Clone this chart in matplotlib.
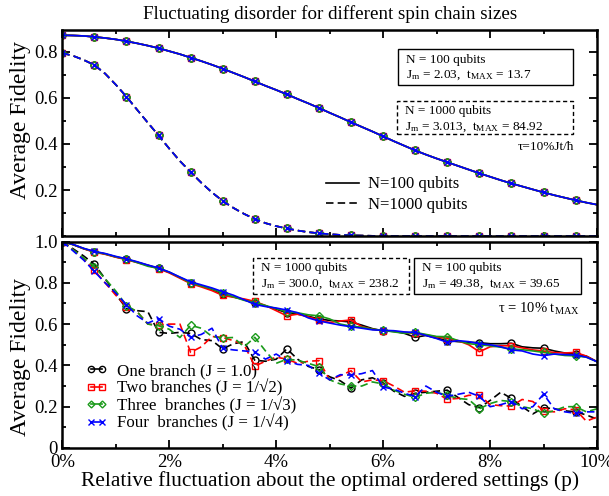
import numpy as np
import matplotlib
matplotlib.use('Agg')
import matplotlib.pyplot as plt
from matplotlib.patches import Rectangle
from matplotlib.lines import Line2D
from matplotlib.ticker import MultipleLocator, FuncFormatter

plt.rcParams['font.family'] = ['Liberation Serif', 'DejaVu Serif']
plt.rcParams['mathtext.fontset'] = 'stix'

# relative fluctuation p (%), sampled every 0.2 %
p = np.round(np.arange(0, 10.01, 0.2), 1)

# top panel: fluctuating disorder, same curve for all four branches
top_n100 = [0.871, 0.870, 0.868, 0.864, 0.859, 0.853, 0.845, 0.836, 0.826, 0.815,
            0.802, 0.789, 0.774, 0.759, 0.743, 0.726, 0.708, 0.690, 0.671, 0.652,
            0.634, 0.615, 0.595, 0.576, 0.556, 0.535, 0.515, 0.494, 0.474, 0.454,
            0.433, 0.412, 0.392, 0.372, 0.354, 0.337, 0.321, 0.305, 0.289, 0.273,
            0.258, 0.243, 0.229, 0.216, 0.203, 0.190, 0.178, 0.167, 0.156, 0.146,
            0.137]
top_n1000 = [0.794, 0.782, 0.764, 0.742, 0.705, 0.657, 0.605, 0.548, 0.492, 0.437,
             0.380, 0.326, 0.278, 0.232, 0.190, 0.153, 0.123, 0.097, 0.075, 0.057,
             0.044, 0.034, 0.025, 0.018, 0.013, 0.009, 0.006, 0.004, 0.003, 0.002,
             0.002, 0.001, 0.001, 0.001, 0.001, 0.001, 0.001, 0.001, 0.001, 0.001,
             0.001, 0.001, 0.001, 0.001, 0.001, 0.001, 0.001, 0.001, 0.001, 0.001,
             0.001]

# bottom panel, N = 100 (solid)
bot_n100_one = [1.0, 0.985, 0.965, 0.950, 0.940, 0.925, 0.914, 0.900, 0.885, 0.870,
                0.850, 0.825, 0.800, 0.785, 0.768, 0.745, 0.732, 0.718, 0.700, 0.688,
                0.672, 0.655, 0.648, 0.638, 0.625, 0.618, 0.615, 0.610, 0.595, 0.578,
                0.567, 0.565, 0.555, 0.536, 0.545, 0.532, 0.520, 0.515, 0.512, 0.510,
                0.505, 0.505, 0.507, 0.490, 0.485, 0.483, 0.470, 0.460, 0.455, 0.445,
                0.418]
bot_n100_two = [1.0, 0.985, 0.965, 0.948, 0.938, 0.924, 0.912, 0.898, 0.884, 0.868,
                0.848, 0.822, 0.796, 0.780, 0.762, 0.739, 0.730, 0.722, 0.710, 0.690,
                0.665, 0.640, 0.648, 0.635, 0.620, 0.608, 0.615, 0.620, 0.588, 0.575,
                0.568, 0.565, 0.560, 0.555, 0.548, 0.538, 0.530, 0.520, 0.500, 0.466,
                0.490, 0.495, 0.495, 0.485, 0.475, 0.470, 0.462, 0.460, 0.463, 0.445,
                0.418]
bot_n100_three = [1.0, 0.985, 0.966, 0.951, 0.940, 0.926, 0.915, 0.898, 0.880, 0.870,
                  0.852, 0.826, 0.800, 0.785, 0.770, 0.750, 0.732, 0.715, 0.705, 0.690,
                  0.675, 0.660, 0.655, 0.645, 0.640, 0.625, 0.600, 0.590, 0.585, 0.575,
                  0.570, 0.562, 0.556, 0.560, 0.550, 0.540, 0.539, 0.520, 0.505, 0.500,
                  0.495, 0.488, 0.480, 0.476, 0.470, 0.463, 0.455, 0.448, 0.446, 0.440,
                  0.418]
bot_n100_four = [1.0, 0.986, 0.967, 0.952, 0.942, 0.928, 0.916, 0.902, 0.886, 0.872,
                 0.852, 0.828, 0.805, 0.790, 0.775, 0.757, 0.740, 0.718, 0.695, 0.685,
                 0.678, 0.668, 0.655, 0.630, 0.615, 0.605, 0.595, 0.587, 0.580, 0.572,
                 0.570, 0.568, 0.562, 0.560, 0.545, 0.530, 0.512, 0.520, 0.515, 0.505,
                 0.500, 0.490, 0.475, 0.470, 0.455, 0.447, 0.455, 0.452, 0.450, 0.440,
                 0.418]

# bottom panel, N = 1000 (dashed)
bot_n1000_one = [1.0, 0.965, 0.930, 0.890, 0.820, 0.745, 0.675, 0.665, 0.660, 0.560,
                 0.555, 0.560, 0.555, 0.525, 0.520, 0.480, 0.505, 0.515, 0.425, 0.420,
                 0.430, 0.480, 0.430, 0.395, 0.380, 0.345, 0.325, 0.290, 0.330, 0.340,
                 0.315, 0.275, 0.250, 0.265, 0.270, 0.275, 0.280, 0.245, 0.210, 0.195,
                 0.230, 0.270, 0.240, 0.200, 0.165, 0.195, 0.190, 0.180, 0.175, 0.160,
                 0.140]
bot_n1000_two = [1.0, 0.960, 0.915, 0.860, 0.800, 0.740, 0.685, 0.660, 0.600, 0.595,
                 0.600, 0.600, 0.463, 0.490, 0.540, 0.535, 0.520, 0.500, 0.397, 0.420,
                 0.440, 0.430, 0.410, 0.420, 0.423, 0.330, 0.350, 0.374, 0.320, 0.330,
                 0.326, 0.300, 0.270, 0.277, 0.275, 0.265, 0.236, 0.240, 0.255, 0.257,
                 0.210, 0.205, 0.203, 0.235, 0.225, 0.180, 0.175, 0.190, 0.185, 0.130,
                 0.150]
bot_n1000_three = [1.0, 0.960, 0.920, 0.878, 0.820, 0.760, 0.690, 0.660, 0.600, 0.592,
                   0.575, 0.535, 0.594, 0.580, 0.540, 0.533, 0.535, 0.490, 0.536, 0.470,
                   0.410, 0.430, 0.425, 0.410, 0.394, 0.330, 0.310, 0.300, 0.300, 0.320,
                   0.310, 0.280, 0.260, 0.245, 0.265, 0.270, 0.255, 0.240, 0.235, 0.190,
                   0.215, 0.230, 0.225, 0.200, 0.190, 0.168, 0.180, 0.200, 0.200, 0.175,
                   0.190]
bot_n1000_four = [1.0, 0.955, 0.910, 0.855, 0.800, 0.750, 0.694, 0.640, 0.605, 0.627,
                  0.590, 0.575, 0.537, 0.550, 0.580, 0.482, 0.475, 0.470, 0.465, 0.430,
                  0.455, 0.423, 0.405, 0.400, 0.362, 0.330, 0.355, 0.353, 0.360, 0.375,
                  0.295, 0.285, 0.265, 0.249, 0.300, 0.270, 0.250, 0.260, 0.270, 0.250,
                  0.200, 0.210, 0.225, 0.190, 0.200, 0.261, 0.190, 0.175, 0.168, 0.175,
                  0.175]

branch_labels = ['One branch (J = 1.0)', 'Two branches (J = 1/\u221a2)',
                 'Three  branches (J = 1/\u221a3)', 'Four  branches (J = 1/\u221a4)']
colors = ['black', 'red', '#1a9a1a', 'blue']
markers = ['o', 's', 'D', 'x']
msizes = [5, 4.5, 4, 5]

bot_n100 = [bot_n100_one, bot_n100_two, bot_n100_three, bot_n100_four]
bot_n1000 = [bot_n1000_one, bot_n1000_two, bot_n1000_three, bot_n1000_four]

dash = (0, (4.5, 2.5))

fig = plt.figure(figsize=(6.09, 4.96), dpi=100)
ax1 = fig.add_axes([0.1023, 0.5236, 0.878, 0.4165])
ax2 = fig.add_axes([0.1023, 0.0968, 0.878, 0.4163])

for i in range(4):
    kw = dict(color=colors[i], marker=markers[i], ms=msizes[i], mfc='none',
              mew=1.0, lw=1.2, markevery=3)
    ax1.plot(p, top_n100, **kw)
    ax1.plot(p, top_n1000, ls=dash, **kw)
    ax2.plot(p, bot_n1000[i], ls=dash, **kw)
    ax2.plot(p, bot_n100[i], **kw)


def style(ax, label_y):
    ax.set_xlim(0, 10)
    ax.xaxis.set_major_locator(MultipleLocator(2))
    ax.xaxis.set_minor_locator(MultipleLocator(1))
    ax.yaxis.set_minor_locator(MultipleLocator(0.1))
    ax.tick_params(which='both', direction='in', top=True, right=True,
                   labelsize=13.5, width=1.3)
    ax.tick_params(axis='x', pad=4.5)
    ax.tick_params(which='major', length=6)
    ax.tick_params(which='minor', length=3)
    for s in ax.spines.values():
        s.set_linewidth(1.8)
    ax.set_ylabel('Average Fidelity', fontsize=17)
    ax.yaxis.set_label_coords(-0.059, label_y)


style(ax1, 0.563)
style(ax2, 0.442)

ax1.set_ylim(0, 0.895)
ax1.set_yticks([0.2, 0.4, 0.6, 0.8])
ax1.set_xticklabels([])
ax1.set_title('Fluctuating disorder for different spin chain sizes',
              fontsize=13.7, pad=8)

ax2.set_ylim(0, 1.0)
ax2.set_yticks([0, 0.2, 0.4, 0.6, 0.8, 1.0])
ax2.yaxis.set_major_formatter(FuncFormatter(lambda v, _: '0' if v == 0 else f'{v:.1f}'))
ax2.xaxis.set_major_formatter(FuncFormatter(lambda v, _: f'{v:.0f}%'))
ax2.set_xlabel('Relative fluctuation about the optimal ordered settings (p)',
               fontsize=15.4, labelpad=0)

# top legend: line style meaning
h_top = [Line2D([], [], color='black', lw=1.2),
         Line2D([], [], color='black', lw=1.2, ls=dash)]
ax1.legend(h_top, ['N=100 qubits', 'N=1000 qubits'], loc='upper left',
           bbox_to_anchor=(0.493, 0.29), frameon=False, fontsize=12,
           handlelength=2.0, handletextpad=0.5, labelspacing=0.27,
           borderpad=0, borderaxespad=0)

# bottom legend: branches
h_bot = [Line2D([], [], color=colors[i], marker=markers[i], ms=msizes[i] - 0.5,
                mfc='none', lw=1.2) for i in range(4)]
ax2.legend(h_bot, branch_labels, loc='upper left', bbox_to_anchor=(0.045, 0.41),
           frameon=False, fontsize=12.2, numpoints=2, handlelength=1.2,
           handletextpad=0.6, labelspacing=0.0, borderpad=0, borderaxespad=0)

# parameter boxes
box_fs = 9.5


def add_box(ax, x0, y0, x1, y1, ls, lines):
    ax.add_patch(Rectangle((x0, y0), x1 - x0, y1 - y0, transform=ax.transAxes,
                           fill=False, ec='black', lw=1.0, ls=ls, zorder=5))
    ax.text(x0 + 0.015, y1 - 0.05, lines[0], transform=ax.transAxes,
            fontsize=box_fs, va='center', ha='left')
    ax.text(x0 + 0.015, y1 - 0.125, lines[1], transform=ax.transAxes,
            fontsize=box_fs, va='center', ha='left')


add_box(ax1, 0.628, 0.730, 0.955, 0.905, '-',
        ['N = 100 qubits', r'J$_\mathregular{m}$ = 2.03,  t$_\mathregular{MAX}$ = 13.7'])
add_box(ax1, 0.626, 0.495, 0.955, 0.655, (0, (3, 2)),
        ['N = 1000 qubits', r'J$_\mathregular{m}$ = 3.013,  t$_\mathregular{MAX}$ = 84.92'])
ax1.text(0.958, 0.43, '\u03c4=10%Jt/\u0127', transform=ax1.transAxes,
         fontsize=9.5, ha='right', va='center')

add_box(ax2, 0.356, 0.748, 0.649, 0.920, (0, (3, 2)),
        ['N = 1000 qubits', r'J$_\mathregular{m}$ = 300.0,  t$_\mathregular{MAX}$ = 238.2'])
add_box(ax2, 0.658, 0.748, 0.971, 0.920, '-',
        ['N = 100 qubits', r'J$_\mathregular{m}$ = 49.38,  t$_\mathregular{MAX}$ = 39.65'])
ax2.text(0.968, 0.675, r'$\mathregular{\tau}$ = 10% t$_\mathregular{MAX}$',
         transform=ax2.transAxes, fontsize=10.5, ha='right', va='center')

fig.savefig('out.png', dpi=100)
